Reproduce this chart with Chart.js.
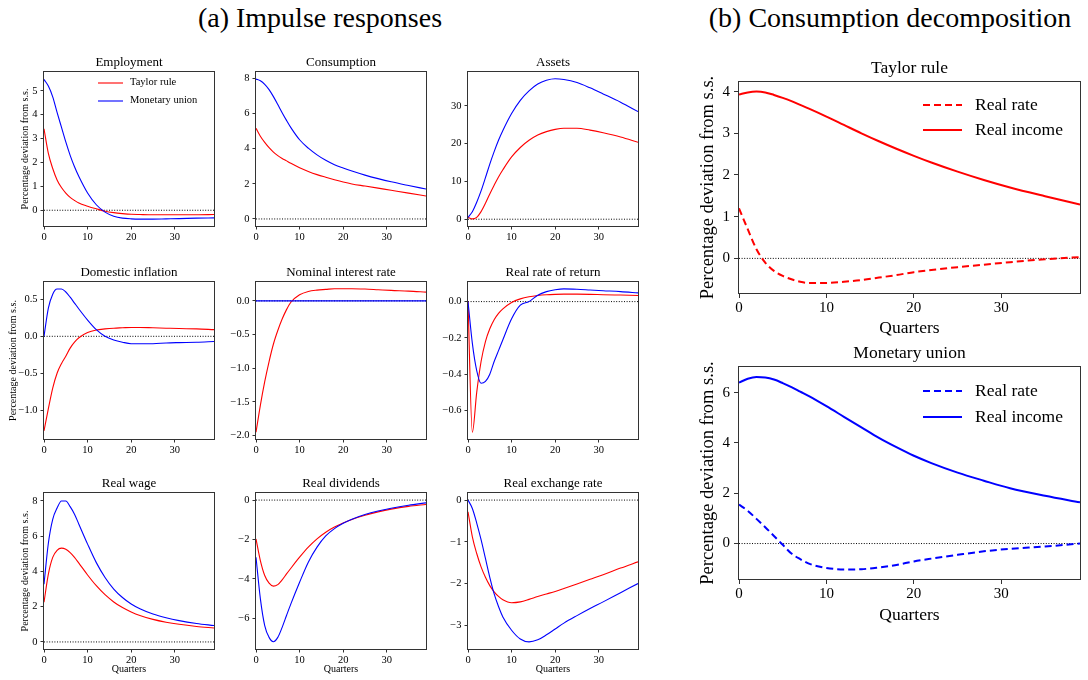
<!DOCTYPE html>
<html>
<head>
<meta charset="utf-8">
<script src="https://cdn.jsdelivr.net/npm/chart.js@4.4.0/dist/chart.umd.min.js"></script>
<style>
  body { margin: 0; width: 1088px; height: 680px; background: #fff; position: relative; overflow: hidden;
         font-family: 'Liberation Serif', 'DejaVu Serif', serif; color: #000; }
  canvas { position: absolute; }
  .hdr { position: absolute; font-size: 28px; line-height: 34px; text-align: center; white-space: nowrap; }
  .leg { position: absolute; white-space: nowrap; }
  svg { position: absolute; overflow: visible; }
</style>
</head>
<body>
<div class="hdr" style="left:120px; width:400px; top:1px;">(a) Impulse responses</div>
<div class="hdr" style="left:690px; width:400px; top:1px;">(b) Consumption decomposition</div>
<script>
const quarters = [0, 1, 2, 3, 4, 5, 6, 7, 8, 10, 12, 14, 16, 18, 20, 22, 25, 28, 31, 35, 39];
const zeroX = [0, 39];
const zeroY = [0, 0];

const empTaylor = [3.41, 2.38, 1.75, 1.27, 0.95, 0.72, 0.54, 0.41, 0.30, 0.17, 0.06, -0.04, -0.10, -0.14, -0.17, -0.18, -0.19, -0.19, -0.19, -0.19, -0.18];
const empUnion = [5.48, 5.20, 4.75, 4.10, 3.48, 2.86, 2.30, 1.82, 1.41, 0.72, 0.23, -0.08, -0.25, -0.33, -0.36, -0.37, -0.37, -0.36, -0.35, -0.33, -0.32];

const consTaylor = [5.15, 4.70, 4.35, 4.05, 3.80, 3.60, 3.44, 3.30, 3.16, 2.91, 2.70, 2.52, 2.37, 2.23, 2.10, 1.99, 1.87, 1.75, 1.63, 1.47, 1.30];
const consUnion = [7.95, 7.85, 7.65, 7.35, 6.95, 6.50, 6.04, 5.60, 5.19, 4.50, 4.02, 3.64, 3.33, 3.08, 2.89, 2.72, 2.49, 2.29, 2.11, 1.90, 1.70];

const assetsTaylor = [0.5, 0.1, 0.5, 2.0, 4.2, 6.7, 9.0, 11.2, 13.1, 16.5, 19.0, 20.9, 22.3, 23.2, 23.8, 24.1, 24.1, 23.6, 22.9, 21.8, 20.4];
const assetsUnion = [0.5, 2.0, 4.5, 7.5, 11.0, 14.6, 17.9, 20.9, 23.5, 28.0, 31.5, 34.0, 35.8, 36.8, 37.2, 37.0, 36.2, 34.8, 33.2, 31.0, 28.5];

const inflTaylor = [-1.28, -0.98, -0.70, -0.50, -0.37, -0.27, -0.16, -0.08, -0.02, 0.05, 0.085, 0.10, 0.11, 0.115, 0.12, 0.12, 0.115, 0.11, 0.105, 0.10, 0.09];
const inflUnion = [0, 0.38, 0.57, 0.64, 0.64, 0.60, 0.53, 0.45, 0.37, 0.22, 0.09, 0.0, -0.05, -0.08, -0.10, -0.10, -0.10, -0.09, -0.085, -0.08, -0.07];

const nomTaylor = [-1.95, -1.55, -1.20, -0.90, -0.64, -0.44, -0.27, -0.13, -0.02, 0.09, 0.14, 0.16, 0.17, 0.18, 0.18, 0.18, 0.175, 0.165, 0.155, 0.145, 0.13];
const nomUnion = [0, 0, 0, 0, 0, 0, 0, 0, 0, 0, 0, 0, 0, 0, 0, 0, 0, 0, 0, 0, 0];

const rrrTaylor = [0, -0.72, -0.50, -0.33, -0.22, -0.15, -0.10, -0.065, -0.04, -0.005, 0.015, 0.027, 0.034, 0.038, 0.04, 0.041, 0.041, 0.04, 0.038, 0.036, 0.034];
const rrrUnion = [0, -0.23, -0.38, -0.45, -0.44, -0.40, -0.33, -0.27, -0.21, -0.095, -0.02, 0.0, 0.035, 0.055, 0.065, 0.07, 0.068, 0.064, 0.06, 0.055, 0.048];

const wageTaylor = [2.25, 3.85, 4.80, 5.20, 5.32, 5.26, 5.07, 4.80, 4.47, 3.80, 3.19, 2.68, 2.27, 1.95, 1.70, 1.50, 1.28, 1.12, 1.00, 0.88, 0.79];
const wageUnion = [3.28, 5.60, 6.96, 7.60, 8.00, 8.00, 7.68, 7.25, 6.68, 5.55, 4.50, 3.66, 3.00, 2.52, 2.15, 1.88, 1.58, 1.37, 1.21, 1.05, 0.93];

const divTaylor = [-1.97, -3.07, -3.83, -4.22, -4.37, -4.29, -4.05, -3.75, -3.46, -2.90, -2.39, -1.97, -1.63, -1.37, -1.16, -0.98, -0.77, -0.60, -0.46, -0.32, -0.22];
const divUnion = [-2.90, -5.00, -6.37, -6.97, -7.19, -6.97, -6.46, -5.86, -5.27, -4.17, -3.15, -2.39, -1.82, -1.45, -1.18, -0.97, -0.73, -0.55, -0.41, -0.26, -0.14];

const rerTaylor = [-0.28, -0.88, -1.28, -1.60, -1.85, -2.05, -2.20, -2.31, -2.39, -2.46, -2.44, -2.38, -2.31, -2.25, -2.19, -2.12, -2.01, -1.90, -1.79, -1.63, -1.48];
const rerUnion = [0, -0.20, -0.55, -0.95, -1.40, -1.85, -2.25, -2.55, -2.80, -3.12, -3.33, -3.40, -3.35, -3.23, -3.09, -2.95, -2.77, -2.60, -2.44, -2.22, -2.00];

const taylorIncome = [3.93, 3.98, 4.00, 3.98, 3.92, 3.85, 3.77, 3.68, 3.59, 3.40, 3.20, 3.00, 2.81, 2.63, 2.46, 2.30, 2.08, 1.88, 1.70, 1.49, 1.29];
const taylorRate = [1.20, 0.70, 0.22, -0.10, -0.30, -0.42, -0.50, -0.56, -0.59, -0.59, -0.56, -0.52, -0.46, -0.40, -0.33, -0.28, -0.21, -0.15, -0.09, -0.02, 0.03];
const unionIncome = [6.40, 6.55, 6.62, 6.60, 6.52, 6.38, 6.22, 6.04, 5.86, 5.46, 5.04, 4.62, 4.20, 3.83, 3.49, 3.20, 2.82, 2.50, 2.20, 1.90, 1.64];
const unionRate = [1.55, 1.30, 0.98, 0.65, 0.30, -0.05, -0.40, -0.62, -0.80, -0.97, -1.03, -1.02, -0.95, -0.85, -0.71, -0.60, -0.45, -0.31, -0.21, -0.12, 0.0];

const RED = '#ff0000', BLUE = '#0000ff';
const SERIF = "'Liberation Serif', 'DejaVu Serif', serif";
const YLAB = 'Percentage deviation from s.s.';

Chart.defaults.font.family = SERIF;
Chart.defaults.color = '#000';

const pts = (xs, ys) => xs.map((x, i) => ({ x: x, y: ys[i] }));
const fmt = dec => v => (Math.abs(v) < 1e-9 ? (0).toFixed(dec) : (v < 0 ? '\u2212' : '') + Math.abs(v).toFixed(dec));

// box around the axes, like matplotlib spines
const boxPlugin = {
  id: 'box',
  afterDraw(chart) {
    const a = chart.chartArea, ctx = chart.ctx;
    ctx.save();
    ctx.strokeStyle = '#333';
    ctx.lineWidth = 1;
    ctx.strokeRect(a.left - 0.5, a.top - 0.5, a.right - a.left + 1, a.bottom - a.top + 1);
    ctx.restore();
  }
};

function panel(p) {
  const big = !!p.big;
  const tSize = big ? 17.5 : 13;
  const tickSize = big ? 15 : 10.5;
  const labSize = big ? 17.5 : 10;
  const yLabSize = big ? 18.5 : 10;
  const tPadB = big ? 3 : 1.4;
  const titleH = tSize * 1.2 + tPadB;
  const padR = 3;
  const lw = big ? 2 : 1.1;

  const cv = document.createElement('canvas');
  cv.width = p.yW + (p.r - p.l) + padR;
  cv.height = titleH + (p.b - p.t) + p.xH;
  cv.style.left = (p.l - p.yW) + 'px';
  cv.style.top = (p.t - titleH) + 'px';
  document.body.appendChild(cv);

  const datasets = [{
    data: pts(zeroX, zeroY), borderColor: '#000', borderWidth: 1, borderDash: [1, 1.6], order: 3
  }].concat(p.series.map(s => ({
    data: pts(quarters, s.y), borderColor: s.color, borderWidth: lw,
    borderDash: s.dash || [], order: s.order || 1
  })));

  new Chart(cv, {
    type: 'line',
    data: { datasets: datasets },
    plugins: [boxPlugin],
    options: {
      responsive: false,
      animation: false,
      devicePixelRatio: 1,
      layout: { padding: { left: 0, right: padR, top: 0, bottom: 0 } },
      elements: {
        point: { radius: 0 },
        line: { cubicInterpolationMode: 'monotone', fill: false, borderCapStyle: 'butt' }
      },
      plugins: {
        legend: { display: false },
        tooltip: { enabled: false },
        title: {
          display: true, text: p.title, fullSize: false, color: '#000',
          font: { family: SERIF, size: tSize, weight: 'normal' },
          padding: { top: 0, bottom: tPadB }
        }
      },
      scales: {
        x: {
          type: 'linear', min: 0, max: 39,
          afterFit: s => { s.height = p.xH; },
          border: { display: false },
          grid: { drawOnChartArea: false, drawTicks: true, tickLength: big ? 5 : 3.5, color: '#333' },
          ticks: { stepSize: 10, includeBounds: false, padding: 1, maxRotation: 0,
                   font: { size: tickSize }, callback: fmt(0) },
          title: p.xLabel ? { display: true, text: 'Quarters', font: { size: labSize },
                              padding: { top: 0, bottom: p.xPad || 0 } } : { display: false }
        },
        y: {
          min: p.min, max: p.max,
          afterFit: s => { s.width = p.yW; },
          border: { display: false },
          grid: { drawOnChartArea: false, drawTicks: true, tickLength: big ? 5 : 3.5, color: '#333' },
          ticks: { stepSize: p.step, includeBounds: false, padding: big ? 4 : 3,
                   font: { size: tickSize }, callback: fmt(p.dec || 0) },
          title: p.yLabel ? { display: true, text: YLAB, font: { size: yLabSize },
                              padding: { top: p.yPad, bottom: 0 } } : { display: false }
        }
      }
    }
  });
}

function legend(lineX0, lineX1, textX, ys, size, items) {
  items.forEach((it, i) => {
    const y = ys[i];
    const svg = document.createElementNS('http://www.w3.org/2000/svg', 'svg');
    svg.setAttribute('width', lineX1 - lineX0);
    svg.setAttribute('height', 4);
    svg.style.left = lineX0 + 'px';
    svg.style.top = (y - 2) + 'px';
    const ln = document.createElementNS('http://www.w3.org/2000/svg', 'line');
    ln.setAttribute('x1', 0); ln.setAttribute('x2', lineX1 - lineX0);
    ln.setAttribute('y1', 2); ln.setAttribute('y2', 2);
    ln.setAttribute('stroke', it.color);
    ln.setAttribute('stroke-width', it.width);
    if (it.dash) ln.setAttribute('stroke-dasharray', it.dash);
    svg.appendChild(ln);
    document.body.appendChild(svg);
    const d = document.createElement('div');
    d.className = 'leg';
    d.textContent = it.label;
    d.style.left = textX + 'px';
    d.style.fontSize = size + 'px';
    d.style.lineHeight = (size * 1.2) + 'px';
    d.style.top = (y - size * 0.62) + 'px';
    document.body.appendChild(d);
  });
}

// column and row geometry of the small panels
const C1 = [44, 214], C2 = [256, 426], C3 = [468, 638];
const R1 = [72, 226], R2 = [282, 439], R3 = [493, 649];

function small(col, row, title, yT, yU, min, max, step, dec, opts) {
  panel(Object.assign({
    l: col[0], r: col[1], t: row[0], b: row[1], title: title,
    yW: col === C1 ? 44 : 36, xH: row === R3 ? 27 : 16, xLabel: row === R3, xPad: 1,
    yLabel: col === C1, yPad: 19,
    min: min, max: max, step: step, dec: dec,
    series: [{ y: yT, color: RED, order: 2 }, { y: yU, color: BLUE, order: 1 }]
  }, opts || {}));
}

small(C1, R1, 'Employment', empTaylor, empUnion, -0.66, 5.79, 1, 0);
small(C2, R1, 'Consumption', consTaylor, consUnion, -0.4, 8.35, 2, 0);
small(C3, R1, 'Assets', assetsTaylor, assetsUnion, -1.8, 39, 10, 0);
small(C1, R2, 'Domestic inflation', inflTaylor, inflUnion, -1.39, 0.735, 0.5, 1, { yPad: 7 });
small(C2, R2, 'Nominal interest rate', nomTaylor, nomUnion, -2.05, 0.28, 0.5, 1);
small(C3, R2, 'Real rate of return', rrrTaylor, rrrUnion, -0.757, 0.108, 0.2, 1);
small(C1, R3, 'Real wage', wageTaylor, wageUnion, -0.4, 8.45, 2, 0);
small(C2, R3, 'Real dividends', divTaylor, divUnion, -7.56, 0.36, 2, 0);
small(C3, R3, 'Real exchange rate', rerTaylor, rerUnion, -3.57, 0.17, 1, 0);

panel({
  big: true, l: 739, r: 1080, t: 82, b: 293, title: 'Taylor rule',
  yW: 49, xH: 46, xLabel: true, xPad: 0.5, yLabel: true, yPad: 7,
  min: -0.83, max: 4.23, step: 1, dec: 0,
  series: [{ y: taylorRate, color: RED, dash: [7, 4] }, { y: taylorIncome, color: RED }]
});
panel({
  big: true, l: 739, r: 1080, t: 367, b: 579, title: 'Monetary union',
  yW: 49, xH: 47, xLabel: true, xPad: 0.5, yLabel: true, yPad: 7,
  min: -1.41, max: 7.02, step: 2, dec: 0,
  series: [{ y: unionRate, color: BLUE, dash: [7, 4] }, { y: unionIncome, color: BLUE }]
});

legend(98, 123, 130, [83, 101], 10.5, [
  { label: 'Taylor rule', color: RED, width: 1.1 },
  { label: 'Monetary union', color: BLUE, width: 1.1 }
]);
legend(923, 962, 975, [105, 130], 17.5, [
  { label: 'Real rate', color: RED, width: 2, dash: '7 4' },
  { label: 'Real income', color: RED, width: 2 }
]);
legend(923, 962, 975, [391, 417], 17.5, [
  { label: 'Real rate', color: BLUE, width: 2, dash: '7 4' },
  { label: 'Real income', color: BLUE, width: 2 }
]);
</script>
</body>
</html>
